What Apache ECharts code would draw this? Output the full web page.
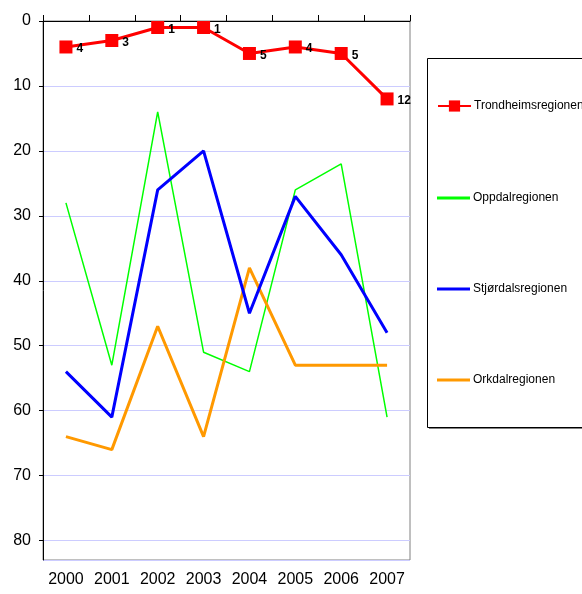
<!DOCTYPE html>
<html>
<head>
<meta charset="utf-8">
<script src="https://cdn.jsdelivr.net/npm/echarts@6/dist/echarts.min.js"></script>
<style>
  html, body { margin: 0; padding: 0; background: #fff; }
  #chart { width: 582px; height: 594px; }
</style>
</head>
<body>
<div id="chart"></div>
<script>
// Years on the category axis
const years = ['2000', '2001', '2002', '2003', '2004', '2005', '2006', '2007'];

// Ranking per region (lower is better, axis is inverted)
const trondheim = [4, 3, 1, 1, 5, 4, 5, 12];
const oppdal = [28, 53, 14, 51, 54, 26, 22, 61];
const stjordal = [54, 61, 26, 20, 45, 27, 36, 48];
const orkdal = [64, 66, 47, 64, 38, 53, 53, 53];

const seriesNames = ['Trondheimsregionen', 'Oppdalregionen', 'Stjørdalsregionen', 'Orkdalregionen'];
const colors = ['#ff0000', '#00ff00', '#0000ff', '#ff9900'];
const legendTops = [95, 187, 278, 369];

const font = 'Liberation Sans, Arial, sans-serif';
const chart = echarts.init(document.getElementById('chart'));

// one legend block per entry so each can be placed and styled separately
const legends = seriesNames.map((name, i) => ({
  orient: 'vertical',
  left: 432, top: legendTops[i],
  itemWidth: 33, itemHeight: i === 0 ? 14 : 3,
  icon: i === 0 ? undefined : 'rect',
  textStyle: { fontSize: 12, color: '#000', padding: [0, 0, 0, -2] },
  data: [name],
  z: 5
}));

chart.setOption({
  animation: false,
  textStyle: { fontFamily: font },
  grid: {
    left: 43, top: 21, right: 172, bottom: 34,
    show: true, borderColor: '#808080', borderWidth: 1, backgroundColor: '#fff'
  },
  graphic: [
    { type: 'rect', left: 429, top: 60, z: 0,
      shape: { width: 160, height: 369 },
      style: { fill: '#808080' } },
    { type: 'rect', left: 427, top: 58, z: 1,
      shape: { width: 160, height: 369 },
      style: { fill: '#fff', stroke: '#000', lineWidth: 1 } }
  ],
  legend: legends,
  xAxis: [
    {
      type: 'category', data: years, position: 'top',
      axisLine: { lineStyle: { color: '#000', width: 1 } },
      axisTick: { show: true, length: 6, interval: 0, lineStyle: { color: '#000' } },
      axisLabel: { show: false },
      splitLine: { show: false }
    },
    {
      type: 'category', data: years, position: 'bottom',
      axisLine: { show: false }, axisTick: { show: false },
      axisLabel: { fontSize: 16, color: '#000', margin: 12, interval: 0 },
      splitLine: { show: false }
    }
  ],
  yAxis: {
    type: 'value', inverse: true, min: 0, max: 83, interval: 10,
    axisLine: { show: true, lineStyle: { color: '#000', width: 1 } },
    axisTick: { show: true, length: 4, lineStyle: { color: '#000' } },
    axisLabel: { fontSize: 16, color: '#000', margin: 12, showMaxLabel: false },
    splitLine: { lineStyle: { color: '#ccccff', width: 1 } }
  },
  series: [
    {
      name: seriesNames[0], type: 'line', data: trondheim, z: 4,
      symbol: 'rect', symbolSize: 13,
      lineStyle: { color: colors[0], width: 3 },
      itemStyle: { color: colors[0] },
      label: { show: true, position: 'right', distance: 4,
        fontSize: 12, fontWeight: 'bold', color: '#000', offset: [0, 2] }
    },
    {
      name: seriesNames[1], type: 'line', data: oppdal, z: 2,
      symbol: 'none',
      lineStyle: { color: colors[1], width: 1.5 },
      itemStyle: { color: colors[1] }
    },
    {
      name: seriesNames[2], type: 'line', data: stjordal, z: 3,
      symbol: 'none',
      lineStyle: { color: colors[2], width: 3 },
      itemStyle: { color: colors[2] }
    },
    {
      name: seriesNames[3], type: 'line', data: orkdal, z: 2,
      symbol: 'none',
      lineStyle: { color: colors[3], width: 3 },
      itemStyle: { color: colors[3] }
    }
  ]
});
</script>
</body>
</html>
